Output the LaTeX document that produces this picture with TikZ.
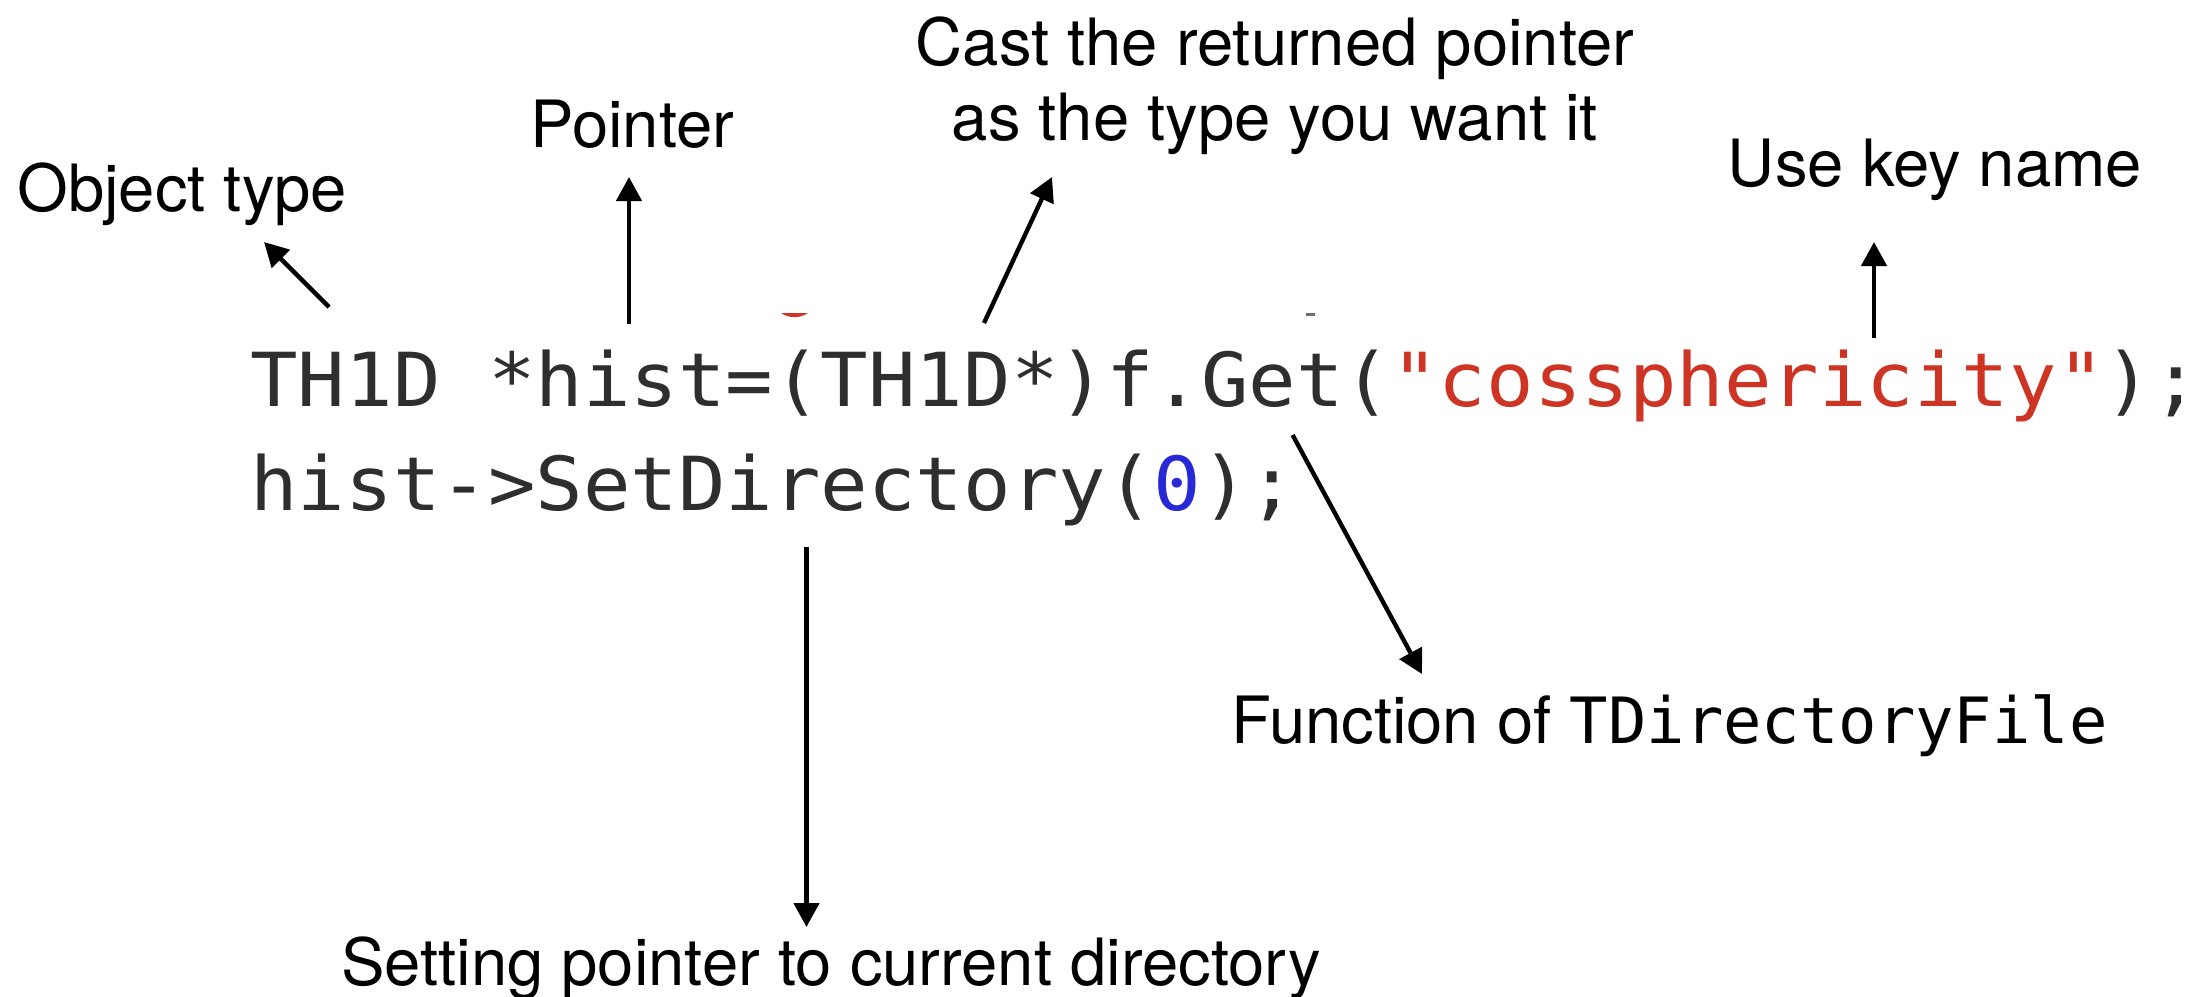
\documentclass[tikz,border=0pt]{standalone}
\usepackage{fontspec}
\setmainfont{TeX Gyre Heros}
\newfontfamily\codefont[FakeStretch=1.06]{DejaVu Sans Mono}
\newfontfamily\monofont{DejaVu Sans Mono}
\usetikzlibrary{arrows.meta}
\definecolor{codegray}{RGB}{46,46,46}
\definecolor{codered}{RGB}{206,52,36}
\definecolor{codeblue}{RGB}{40,40,214}
\tikzset{
  label/.style={inner sep=0pt, font=\fontsize{32.6}{38}\selectfont, text=black},
  code/.style={inner sep=0pt, anchor=base west, font=\codefont\fontsize{37.25}{44}\selectfont, text=codegray},
  pointarrow/.style={line width=2.2pt, -{Triangle[length=12pt,width=12.5pt]}}
}
\begin{document}
\begin{tikzpicture}[x=0.5pt,y=-0.5pt]
\useasboundingbox (0,0) rectangle (2190,996);
% labels
\node[label, anchor=base west] (objtype) at (17,211) {Object type};
\node[label, anchor=base west] (pointer) at (530,147) {Pointer};
\node[label, anchor=base] (cast1) at (1275,65) {Cast the returned pointer};
\node[label, anchor=base] (cast2) at (1275,140) {as the type you want it};
\node[label, anchor=base] (usekey) at (1935,186) {Use key name};
\node[label, anchor=base west] (func) at (1231,743) {Function of {\monofont\fontsize{31.9}{38}\selectfont TDirectoryFile}};
\node[label, anchor=base] (setting) at (831,985) {Setting pointer to current directory};
% code
\node[code] (line1) at (250,406) {TH1D *hist=(TH1D*)f.Get(\textcolor{codered}{"cossphericity"});};
\node[code] (line2) at (250,510) {hist->SetDirectory(\textcolor{codeblue}{0});};
% remnants of the line above
\fill[codered] (781,313) -- (808,313) .. controls (800,318.5) and (789,318.5) .. cycle;
\fill[codegray!70] (1306,313) rectangle (1315,316);
% arrow end points
\coordinate (objS) at (329,307);
\coordinate (objE) at (264,242);
\coordinate (ptrS) at (629,324);
\coordinate (ptrE) at (629,177);
\coordinate (castS) at (984,323);
\coordinate (castE) at (1052,177);
\coordinate (keyS) at (1874,338);
\coordinate (keyE) at (1874,242);
\coordinate (getS) at (1292.6,435);
\coordinate (getE) at (1422,674);
\coordinate (dirS) at (806.5,547);
\coordinate (dirE) at (806.5,927);
% arrows
\draw[pointarrow] (objS) -- (objE);
\draw[pointarrow] (ptrS) -- (ptrE);
\draw[pointarrow] (castS) -- (castE);
\draw[pointarrow] (keyS) -- (keyE);
\draw[pointarrow] (getS) -- (getE);
\draw[pointarrow] (dirS) -- (dirE);
\end{tikzpicture}
\end{document}
